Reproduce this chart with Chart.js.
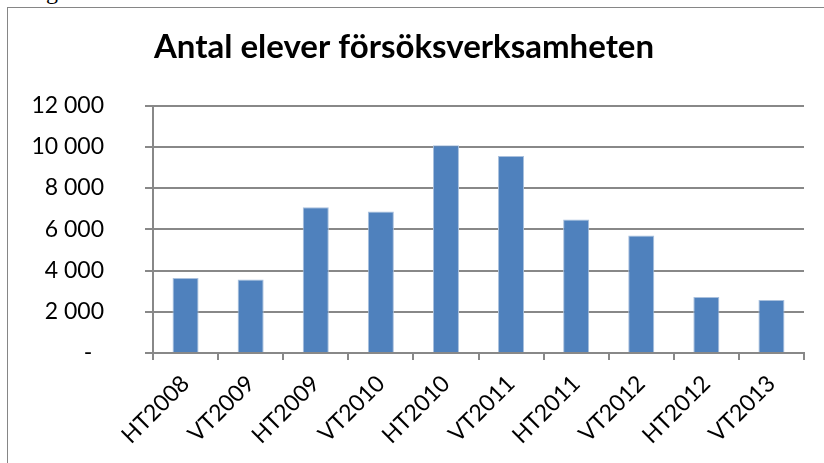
<!DOCTYPE html>
<html>
<head>
<meta charset="utf-8">
<script src="https://cdn.jsdelivr.net/npm/chart.js@4.4.1/dist/chart.umd.min.js"></script>
<style>
    html, body { margin: 0; padding: 0; background: #fff; overflow: hidden; }
    #ram { position: absolute; left: 7px; top: 7px; width: 900px; height: 500px;
           border-left: 1px solid #868686; border-top: 1px solid #868686; }
    #bokstav { position: absolute; left: 46px; top: -22px; font: 24px "Liberation Serif", serif; color: #000; }
    #wrap { position: absolute; left: 0; top: 0; width: 824px; height: 463px; }
</style>
</head>
<body>
<div id="bokstav">g</div>
<div id="ram"></div>
<div id="wrap"><canvas id="barChart"></canvas></div>
<script>
const terminer = ['HT2008', 'VT2009', 'HT2009', 'VT2010', 'HT2010', 'VT2011', 'HT2011', 'VT2012', 'HT2012', 'VT2013'];
const antalElever = [3640, 3560, 7070, 6860, 10080, 9550, 6480, 5700, 2720, 2570];
const yMin = 0;
const yMax = 12000;
const yStep = 2000;

const gra = '#888888';

function formatera(value) {
    if (value === 0) return '-  ';
    return String(value).replace(/\B(?=(\d{3})+(?!\d))/g, ' ');
}

document.addEventListener('DOMContentLoaded', function () {
    new Chart(document.getElementById('barChart'), {
        type: 'bar',
        data: {
            labels: terminer,
            datasets: [{
                label: 'Antal elever',
                data: antalElever,
                backgroundColor: '#4F81BD',
                borderColor: '#a9c0dd',
                borderWidth: 1,
                barPercentage: 0.4,
                categoryPercentage: 1.0
            }]
        },
        options: {
            responsive: false,
            animation: false,
            maintainAspectRatio: false,
            layout: {
                padding: { left: 4, right: 20, top: 0, bottom: 0 }
            },
            scales: {
                y: {
                    min: yMin,
                    max: yMax,
                    afterFit: (scale) => { scale.width = 149; },
                    ticks: {
                        stepSize: yStep,
                        padding: 41,
                        color: '#000',
                        font: { family: 'Lato', size: 23 },
                        callback: formatera
                    },
                    grid: { color: gra, lineWidth: 2, tickLength: 8 },
                    border: { color: gra, width: 2 }
                },
                x: {
                    afterFit: (scale) => { scale.height = 110; },
                    ticks: {
                        maxRotation: 45,
                        minRotation: 45,
                        padding: 10,
                        color: '#000',
                        font: { family: 'Lato', size: 23 }
                    },
                    grid: { drawOnChartArea: false, color: gra, lineWidth: 2, tickLength: 7 },
                    border: { color: gra, width: 2 }
                }
            },
            plugins: {
                legend: { display: false },
                tooltip: { enabled: false },
                title: {
                    display: true,
                    text: 'Antal elever försöksverksamheten',
                    color: '#000',
                    font: { family: 'Lato', size: 33, weight: 'bold' },
                    padding: { top: 28, bottom: 38 }
                }
            }
        }
    });
});
</script>
<script>
    const c = document.getElementById('barChart');
    c.width = 824; c.height = 463;
</script>
</body>
</html>
